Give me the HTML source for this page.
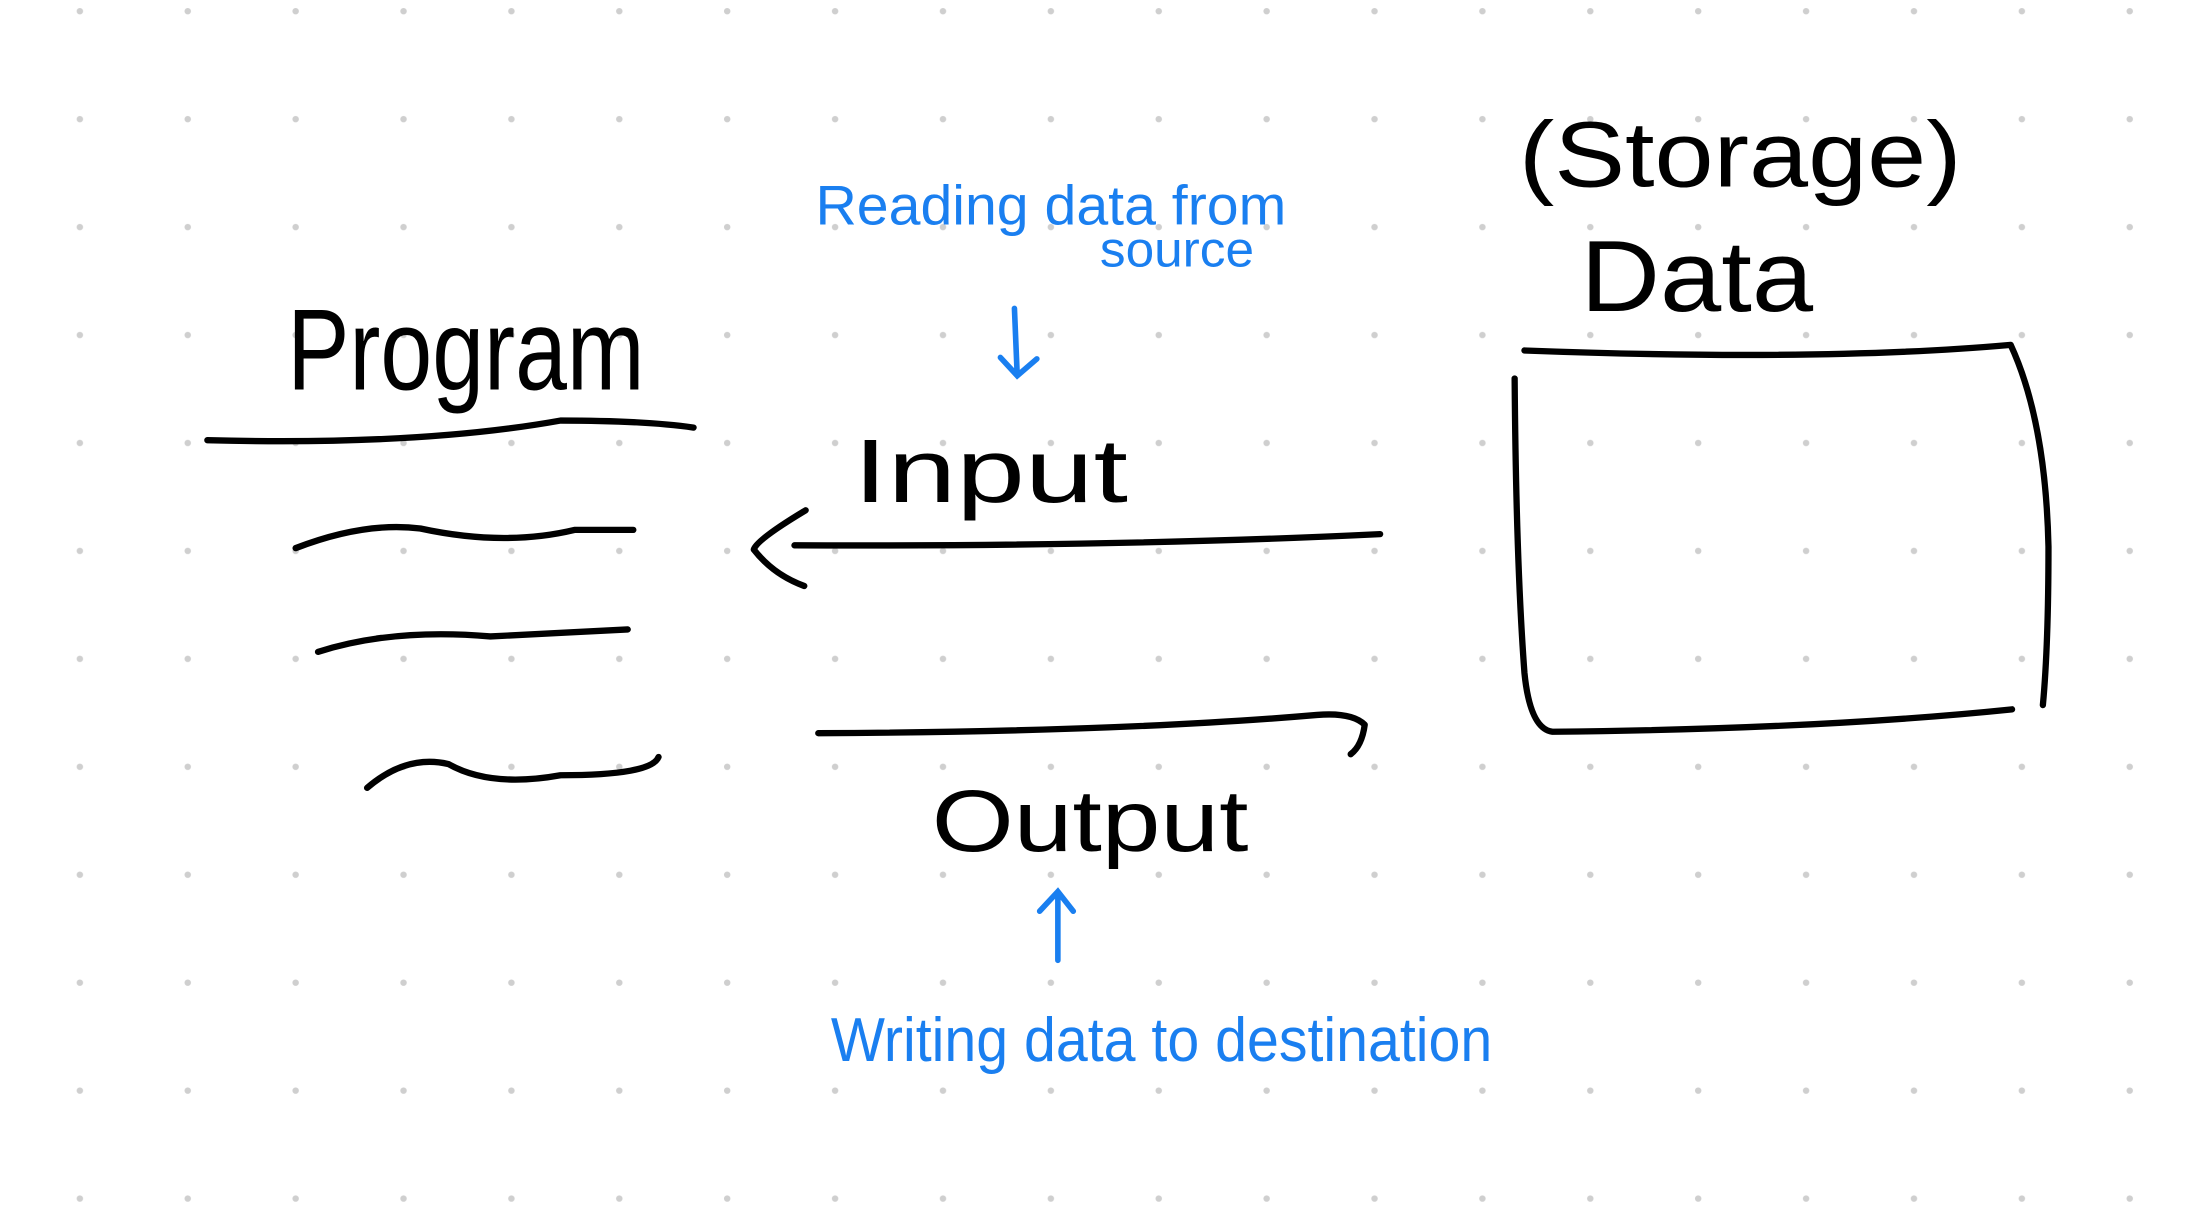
<!DOCTYPE html>
<html><head><meta charset="utf-8"><style>
html,body{margin:0;padding:0;background:#fff;}
svg{display:block;}
text{font-family:"Liberation Sans","DejaVu Sans",sans-serif;}
</style></head><body>
<svg width="2197" height="1207" viewBox="0 0 1568 861" preserveAspectRatio="none" xmlns="http://www.w3.org/2000/svg">
<defs><pattern id="d" x="18" y="-31" width="77" height="77" patternUnits="userSpaceOnUse"><circle cx="39" cy="39" r="2.3" fill="#cfcfcf"/></pattern></defs>
<rect width="1568" height="861" fill="url(#d)"/>
<g fill="none" stroke="#000" stroke-width="4.5" stroke-linecap="round" stroke-linejoin="round">
<path d="M148 314 Q300 318 400 300 Q460 300 495 305"/>
<path d="M211 391 Q260 372 300 377 Q360 390 410 378 L452 378"/>
<path d="M227 465 Q280 448 350 454 L448 449"/>
<path d="M262 562 Q290 538 320 545 Q350 562 400 553 Q465 553 470 540"/>
<path d="M985 381 Q800 390 567 389"/>
<path d="M575 364 Q540 385 538 392 Q552 410 574 418"/>
<path d="M584 523 Q800 522 940 510 Q965 508 974 517 Q972 532 964 538"/>
<path d="M1088 250 Q1300 258 1435 246 Q1460 300 1462 390 Q1462 460 1458 503"/>
<path d="M1081 270 Q1082 400 1088 480 Q1092 520 1108 522 Q1300 520 1436 506"/>
</g>
<g fill="none" stroke="#1a7ff0" stroke-width="4" stroke-linecap="round">
<path d="M724 220 L726 268 M714 255 L726 268 L740 256"/>
<path d="M755 685 L755 636 M742 650 L755 636 L766 650"/>
</g>
<text x="205" y="278" font-size="82" textLength="255" lengthAdjust="spacingAndGlyphs">Program</text>
<text x="1084" y="133" font-size="66" textLength="316" lengthAdjust="spacingAndGlyphs">(Storage)</text>
<text x="1128" y="222" font-size="72" textLength="166" lengthAdjust="spacingAndGlyphs">Data</text>
<text x="609" y="358" font-size="64" textLength="196" lengthAdjust="spacingAndGlyphs">Input</text>
<text x="665" y="607" font-size="62" textLength="226" lengthAdjust="spacingAndGlyphs">Output</text>
<g fill="#1a7ff0">
<text x="582" y="160" font-size="40" textLength="336" lengthAdjust="spacingAndGlyphs">Reading data from</text>
<text x="785" y="190" font-size="36" textLength="110" lengthAdjust="spacingAndGlyphs">source</text>
<text x="593" y="757" font-size="44" textLength="472" lengthAdjust="spacingAndGlyphs">Writing data to destination</text>
</g>
</svg>
</body></html>
